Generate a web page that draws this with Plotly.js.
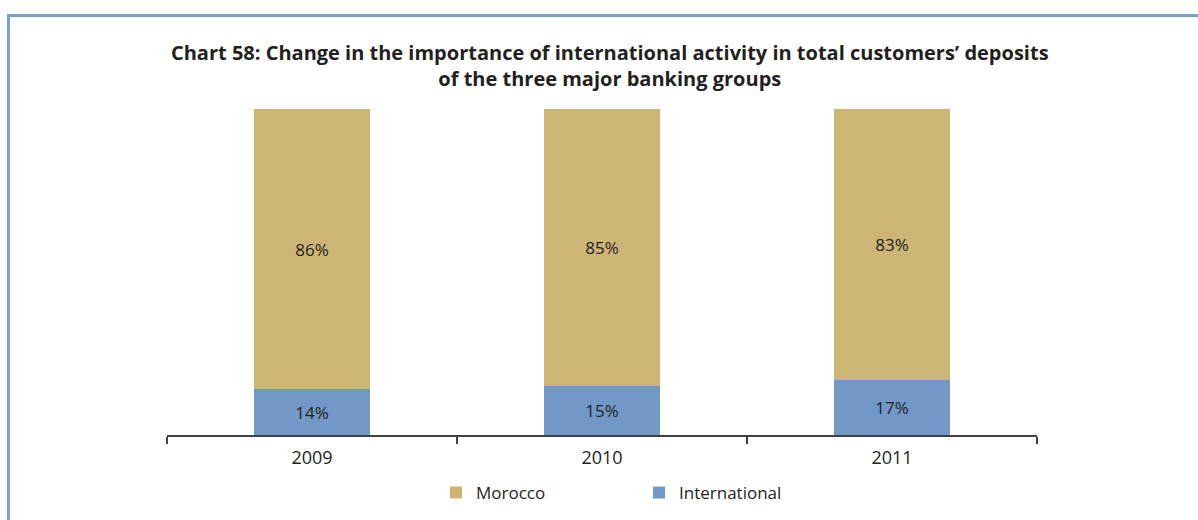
<!DOCTYPE html>
<html>
<head>
<meta charset="utf-8">
<script src="https://cdn.plot.ly/plotly-3.0.1.min.js"></script>
<style>
html,body{margin:0;padding:0;background:#fff;}
#chart{width:1198px;height:520px;}
</style>
</head>
<body>
<div id="chart"></div>
<script>
const years = ["2009", "2010", "2011"];
const morocco = [86, 85, 83];
const international = [14, 15, 17];
const seriesNames = ["Morocco", "International"];
const titleText = "Chart 58: Change in the importance of international activity in total customers’ deposits<br>of the three major banking groups";

const FONT = "Open Sans, Noto Sans, sans-serif";
const TXT = "#231f20";

const traces = [
  {
    type: "bar",
    name: seriesNames[1],
    x: years,
    y: international,
    text: international.map(v => v + "%"),
    textposition: "inside",
    insidetextanchor: "middle",
    textangle: 0,
    textfont: {family: FONT, size: 17, color: TXT},
    marker: {color: "#7198c6", line: {width: 0}},
    hoverinfo: "x+y+name"
  },
  {
    type: "bar",
    name: seriesNames[0],
    x: years,
    y: morocco,
    text: morocco.map(v => v + "%"),
    textposition: "inside",
    insidetextanchor: "middle",
    textangle: 0,
    textfont: {family: FONT, size: 17, color: TXT},
    marker: {color: "#cdb576", line: {width: 0}},
    hoverinfo: "x+y+name"
  }
];

const layout = {
  width: 1198,
  height: 520,
  barmode: "stack",
  bargap: 0.6,
  paper_bgcolor: "#ffffff",
  plot_bgcolor: "#ffffff",
  margin: {l: 167, r: 161, t: 109, b: 85, autoexpand: false},
  font: {family: FONT, color: TXT},
  title: {
    text: titleText,
    font: {family: FONT, size: 20, color: TXT, weight: "bold"},
    x: 0.509, xanchor: "center",
    y: 0.885, yanchor: "middle"
  },
  xaxis: {
    type: "category",
    showline: true,
    linecolor: "#404040",
    linewidth: 1.5,
    ticks: "outside",
    tickson: "boundaries",
    ticklen: 7,
    tickwidth: 1.5,
    tickcolor: "#404040",
    ticklabelstandoff: 6,
    tickfont: {family: FONT, size: 18, color: TXT},
    showgrid: false,
    zeroline: false,
    fixedrange: true
  },
  yaxis: {
    range: [0, 100],
    visible: false,
    showgrid: false,
    zeroline: false,
    fixedrange: true
  },
  showlegend: true,
  legend: {
    orientation: "h",
    traceorder: "reversed",
    xref: "paper",
    yref: "container",
    x: 0.5425, xanchor: "center",
    y: 0.052, yanchor: "middle",
    font: {family: FONT, size: 17, color: TXT},
    entrywidth: 158,
    bgcolor: "rgba(0,0,0,0)"
  },
  shapes: [
    {type: "line", xref: "paper", yref: "paper",
     x0: (8.5 - 167) / 870, x1: (1200 - 167) / 870,
     y0: (435 - 15.5) / 326, y1: (435 - 15.5) / 326,
     line: {color: "#7a9fd1", width: 3}},
    {type: "line", xref: "paper", yref: "paper",
     x0: (8.5 - 167) / 870, x1: (8.5 - 167) / 870,
     y0: (435 - 14) / 326, y1: (435 - 525) / 326,
     line: {color: "#7a9fd1", width: 3}}
  ]
};

Plotly.newPlot("chart", traces, layout, {displayModeBar: false, staticPlot: true});
</script>
</body>
</html>
